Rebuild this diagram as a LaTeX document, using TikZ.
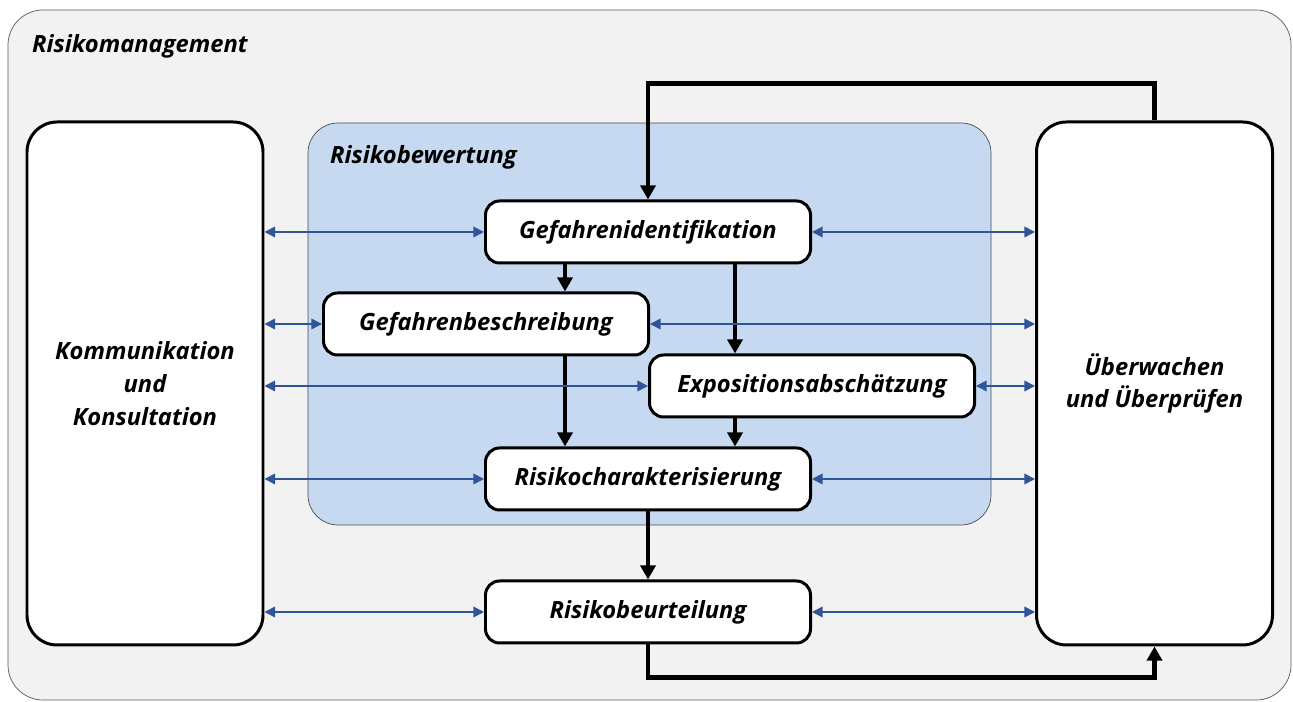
\documentclass[tikz,border=0pt]{standalone}
\usepackage{fontspec}
\setmainfont{Open Sans}
\usetikzlibrary{positioning}
\usetikzlibrary{arrows.meta}
\definecolor{framegray}{RGB}{242,242,242}
\definecolor{evalblue}{RGB}{198,217,240}
\definecolor{linkblue}{RGB}{47,85,151}
\tikzset{lbl/.style={font=\fontsize{13.5}{18.7}\selectfont\bfseries\itshape}}
\tikzset{proc/.style={lbl,draw,line width=1.7pt,rounded corners=8pt,fill=white,minimum width=6.5cm,minimum height=1.24cm,inner sep=0pt}}
\tikzset{side/.style={lbl,draw,line width=1.7pt,rounded corners=0.6cm,fill=white,minimum width=4.72cm,minimum height=10.46cm,align=center}}
\tikzset{flow/.style={-{Triangle[width=8.5pt,length=8pt]},line width=2.6pt}}
\tikzset{info/.style={{Triangle[width=6pt,length=6pt]}-{Triangle[width=6pt,length=6pt]},line width=0.9pt,draw=linkblue,color=linkblue}}

\begin{document}
\begin{tikzpicture}
\useasboundingbox (0,0) rectangle (25.86,14.04);

% Rahmen
\draw[draw=black!65,fill=framegray,rounded corners=0.7cm] (0.16,0.04) rectangle (25.82,13.84);
\node[lbl,anchor=west] (rm) at (0.52,13.12) {Risikomanagement};

\draw[draw=black!70,fill=evalblue,rounded corners=0.6cm] (6.16,3.54) rectangle (19.82,11.58);
\node[lbl,anchor=west] (rb) at (6.48,10.9) {Risikobewertung};

\node[side] (komm) at (2.9,6.37) {Kommunikation\\und\\Konsultation};
\node[side] (ueber) at (23.09,6.37) {Überwachen\\und Überprüfen};

\node[proc] (gefid) at (12.96,9.4) {Gefahrenidentifikation};
\node[proc] (gefb) at (9.72,7.56) {Gefahrenbeschreibung};
\node[proc] (expo) at (16.24,6.32) {Expositionsabschätzung};
\node[proc] (risk) at (12.96,4.46) {Risikocharakterisierung};
\node[proc] (beur) at (12.96,1.8) {Risikobeurteilung};

\draw[flow] (ueber.north) -- ++(0,0.74) -| (gefid.north);
\draw[flow] ([xshift=-1.66cm]gefid.south) -- ([xshift=-1.66cm]gefid.south |- gefb.north);
\draw[flow] ([xshift=1.74cm]gefid.south) -- ([xshift=1.74cm]gefid.south |- expo.north);
\draw[flow] ([xshift=1.58cm]gefb.south) -- ([xshift=1.58cm]gefb.south |- risk.north);
\draw[flow] ([xshift=-1.54cm]expo.south) -- ([xshift=-1.54cm]expo.south |- risk.north);
\draw[flow] (risk.south) -- (beur.north);
\draw[flow] (beur.south) -- ++(0,-0.66) -| (ueber.south);

\foreach \n in {gefid,gefb,expo,risk,beur}{
  \draw[info] (komm.east |- \n.west) -- (\n.west);
  \draw[info] (\n.east) -- (\n.east -| ueber.west);
}

\end{tikzpicture}
\end{document}
